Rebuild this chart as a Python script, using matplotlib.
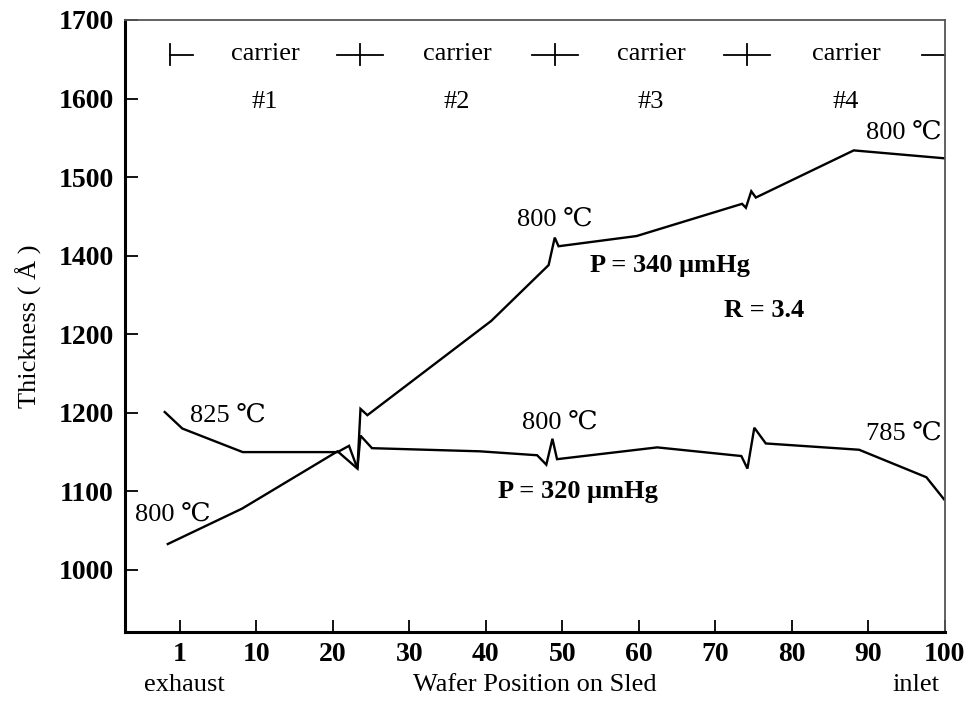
import matplotlib
matplotlib.use("Agg")
import matplotlib.pyplot as plt

plt.rcParams['font.family'] = ['Liberation Serif', 'DejaVu Serif']
plt.rcParams['mathtext.fontset'] = 'stix'

# Upper curve: P = 340 umHg, starts at 800 C at exhaust
upper_x = [-1.6, 8.1, 20.6, 23.2, 23.6, 24.5, 40.7, 48.2, 49.0, 49.5, 59.7,
           73.5, 74.0, 74.7, 75.3, 88.1, 99.9]
upper_y = [1033, 1078, 1151, 1129, 1205, 1197, 1317, 1388, 1423, 1412, 1425,
           1466, 1461, 1482, 1474, 1534, 1524]

# Lower curve: P = 320 umHg, starts at 825 C at exhaust
lower_x = [-2.0, 0.3, 8.2, 20.6, 22.1, 23.2, 23.6, 25.1, 39.2, 46.7, 47.9,
           48.7, 49.3, 62.4, 73.4, 74.2, 75.1, 76.6, 88.8, 97.6, 99.9]
lower_y = [1201, 1180, 1150, 1150, 1158, 1129, 1171, 1155, 1151, 1146, 1134,
           1167, 1141, 1156, 1145, 1129, 1181, 1161, 1153, 1118, 1090]

x_ticks = [0, 10, 20, 30, 40, 50, 60, 70, 80, 90, 100]
x_tick_labels = ['1', '10', '20', '30', '40', '50', '60', '70', '80', '90', '100']
y_ticks = [1000, 1100, 1200, 1300, 1400, 1500, 1600, 1700]
y_tick_labels = ['1000', '1100', '1200', '1200', '1400', '1500', '1600', '1700']

carrier_bounds = [-1.3, 23.5, 49.0, 74.2, 100.0]
carrier_names = ['carrier', 'carrier', 'carrier', 'carrier']
carrier_nums = ['#1', '#2', '#3', '#4']

annotations = [
    (6.2, 1197, '825 ℃', 'normal'),
    (-0.9, 1071, '800 ℃', 'normal'),
    (49.0, 1446, '800 ℃', 'normal'),
    (94.6, 1556, '800 ℃', 'normal'),
    (49.6, 1188, '800 ℃', 'normal'),
    (94.6, 1173, '785 ℃', 'normal'),
    (64.0, 1387, 'P = 340 μmHg', 'bold'),
    (52.0, 1100, 'P = 320 μmHg', 'bold'),
    (76.4, 1330, 'R = 3.4', 'bold'),
]

FS = 19

fig = plt.figure(figsize=(9.65, 7.01), dpi=100)
ax = fig.add_axes([0.1295, 0.0984, 0.8495, 0.8731])

ax.plot(upper_x, upper_y, color='black', lw=1.7, solid_joinstyle='miter')
ax.plot(lower_x, lower_y, color='black', lw=1.7, solid_joinstyle='miter')

ax.set_xlim(-7.2, 100)
ax.set_ylim(921, 1700)

ax.set_xticks(x_ticks)
ax.set_xticklabels(x_tick_labels, fontsize=FS + 1, fontweight='bold')
ax.set_yticks(y_ticks)
ax.set_yticklabels(y_tick_labels, fontsize=FS + 1, fontweight='bold')
ax.tick_params(axis='both', direction='in', length=9, width=1.3, color='black')
ax.tick_params(axis='x', pad=7)
ax.tick_params(axis='y', pad=8)

for s in ['left', 'bottom']:
    ax.spines[s].set_linewidth(2.2)
    ax.spines[s].set_color('black')
for s in ['top', 'right']:
    ax.spines[s].set_linewidth(1.3)
    ax.spines[s].set_color('#555555')

ax.set_ylabel('Thickness ( Å )', fontsize=FS, labelpad=12)

# bottom texts
ax.text(0.5, -0.086, 'Wafer Position on Sled', transform=ax.transAxes,
        ha='center', va='center', fontsize=FS)
ax.text(0.072, -0.086, 'exhaust', transform=ax.transAxes,
        ha='center', va='center', fontsize=FS)
ax.text(0.965, -0.086, 'inlet', transform=ax.transAxes,
        ha='center', va='center', fontsize=FS)

# carrier separators
row_y = 1656
half = 3.0
for i, b in enumerate(carrier_bounds):
    left = b - half if i > 0 else b
    right = b + half if i < len(carrier_bounds) - 1 else b
    ax.plot([left, right], [row_y, row_y], color='black', lw=1.3, clip_on=False)
    if i < len(carrier_bounds) - 1:
        ax.plot([b, b], [row_y - 13, row_y + 13], color='black', lw=1.3)

for i in range(len(carrier_names)):
    cx = (carrier_bounds[i] + carrier_bounds[i + 1]) / 2
    ax.text(cx, row_y + 1, carrier_names[i], ha='center', va='center', fontsize=FS)
    ax.text(cx, 1596, carrier_nums[i], ha='center', va='center', fontsize=FS)

for x, y, t, w in annotations:
    ax.text(x, y, t, ha='center', va='center', fontsize=FS, fontweight=w)

fig.savefig('out.png', dpi=100)
